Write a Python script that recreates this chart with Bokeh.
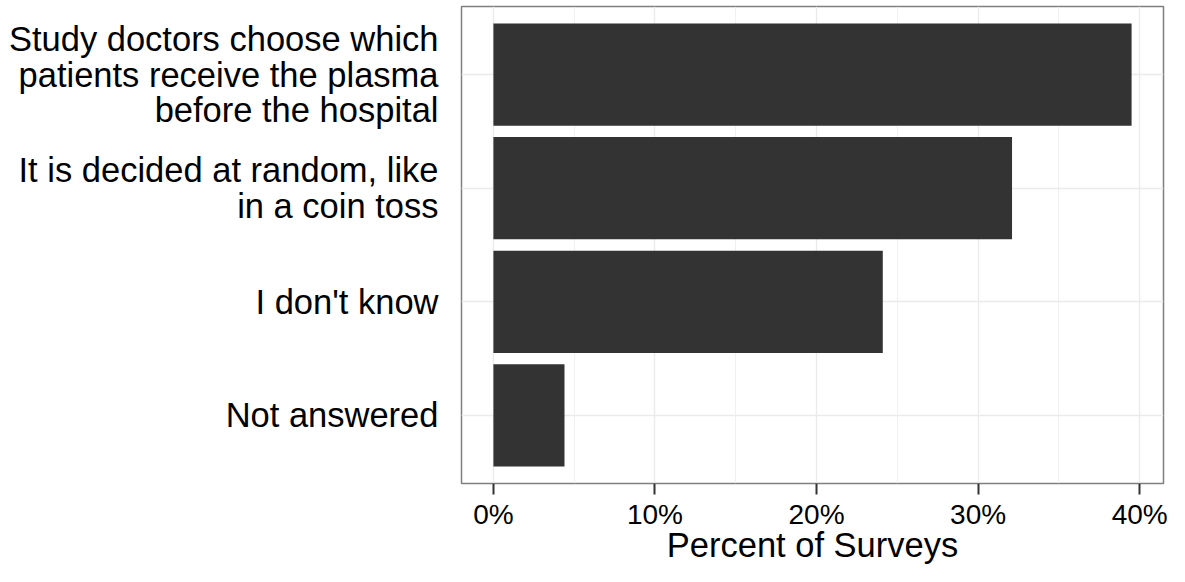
from bokeh.plotting import figure
from bokeh.models import Range1d, FactorRange, FixedTicker, ColumnDataSource
from bokeh.embed import file_html
from bokeh.resources import INLINE

# ---- data ----
categories = [
    "Study doctors choose which\npatients receive the plasma\nbefore the hospital",
    "It is decided at random, like\nin a coin toss",
    "I don't know",
    "Not answered",
]
percents = [39.5, 32.1, 24.1, 4.4]
x_ticks = [0, 10, 20, 30, 40]
x_minor_ticks = [5, 15, 25, 35]
x_tick_labels = ["0%", "10%", "20%", "30%", "40%"]

FONT = "Liberation Sans"

src = ColumnDataSource(dict(cat=categories, pct=percents))

xmax = max(percents)
pad = 0.05 * xmax

p = figure(
    width=1169, height=566,
    y_range=FactorRange(factors=list(reversed(categories)), range_padding=0.1,
                        range_padding_units="absolute"),
    x_range=Range1d(-pad, xmax + pad),
    output_backend="svg", toolbar_location=None,
    min_border_left=461, min_border_right=6, min_border_top=6, min_border_bottom=81,
    background_fill_color="white", border_fill_color="white",
)

p.hbar(y="cat", right="pct", left=0, height=0.9, source=src,
       fill_color="#333333", line_color=None)

p.outline_line_color = "#7f7f7f"
p.outline_line_width = 1.5

# grids
p.xgrid.grid_line_color = "#ebebeb"
p.xgrid.grid_line_width = 1.4
p.xgrid.minor_grid_line_color = "#ebebeb"
p.xgrid.minor_grid_line_width = 0.7
p.ygrid.grid_line_color = "#ebebeb"
p.ygrid.grid_line_width = 1.4

# x axis
xa = p.xaxis[0]
xa.ticker = FixedTicker(ticks=x_ticks, minor_ticks=x_minor_ticks)
xa.major_label_overrides = {t: l for t, l in zip(x_ticks, x_tick_labels)}
xa.axis_line_color = None
xa.major_tick_in = 0
xa.major_tick_out = 11
xa.major_tick_line_width = 2
xa.major_tick_line_color = "#333333"
xa.minor_tick_line_color = None
xa.major_label_text_font = FONT
xa.major_label_text_font_size = "28px"
xa.major_label_text_color = "black"
xa.major_label_text_line_height = 1.0
xa.major_label_standoff = 4
xa.axis_label = "Percent of Surveys"
xa.axis_label_text_font = FONT
xa.axis_label_text_font_size = "34.5px"
xa.axis_label_text_font_style = "normal"
xa.axis_label_text_color = "black"
xa.axis_label_text_line_height = 1.0
xa.axis_label_standoff = -7

# y axis
ya = p.yaxis[0]
ya.axis_line_color = None
ya.major_tick_line_color = None
ya.major_tick_in = 0
ya.major_tick_out = 0
ya.minor_tick_line_color = None
ya.major_label_standoff = 23
ya.major_label_text_font = FONT
ya.major_label_text_font_size = "34.5px"
ya.major_label_text_color = "black"
ya.major_label_text_line_height = 0.94

open("out.html", "w").write(file_html(p, INLINE))
